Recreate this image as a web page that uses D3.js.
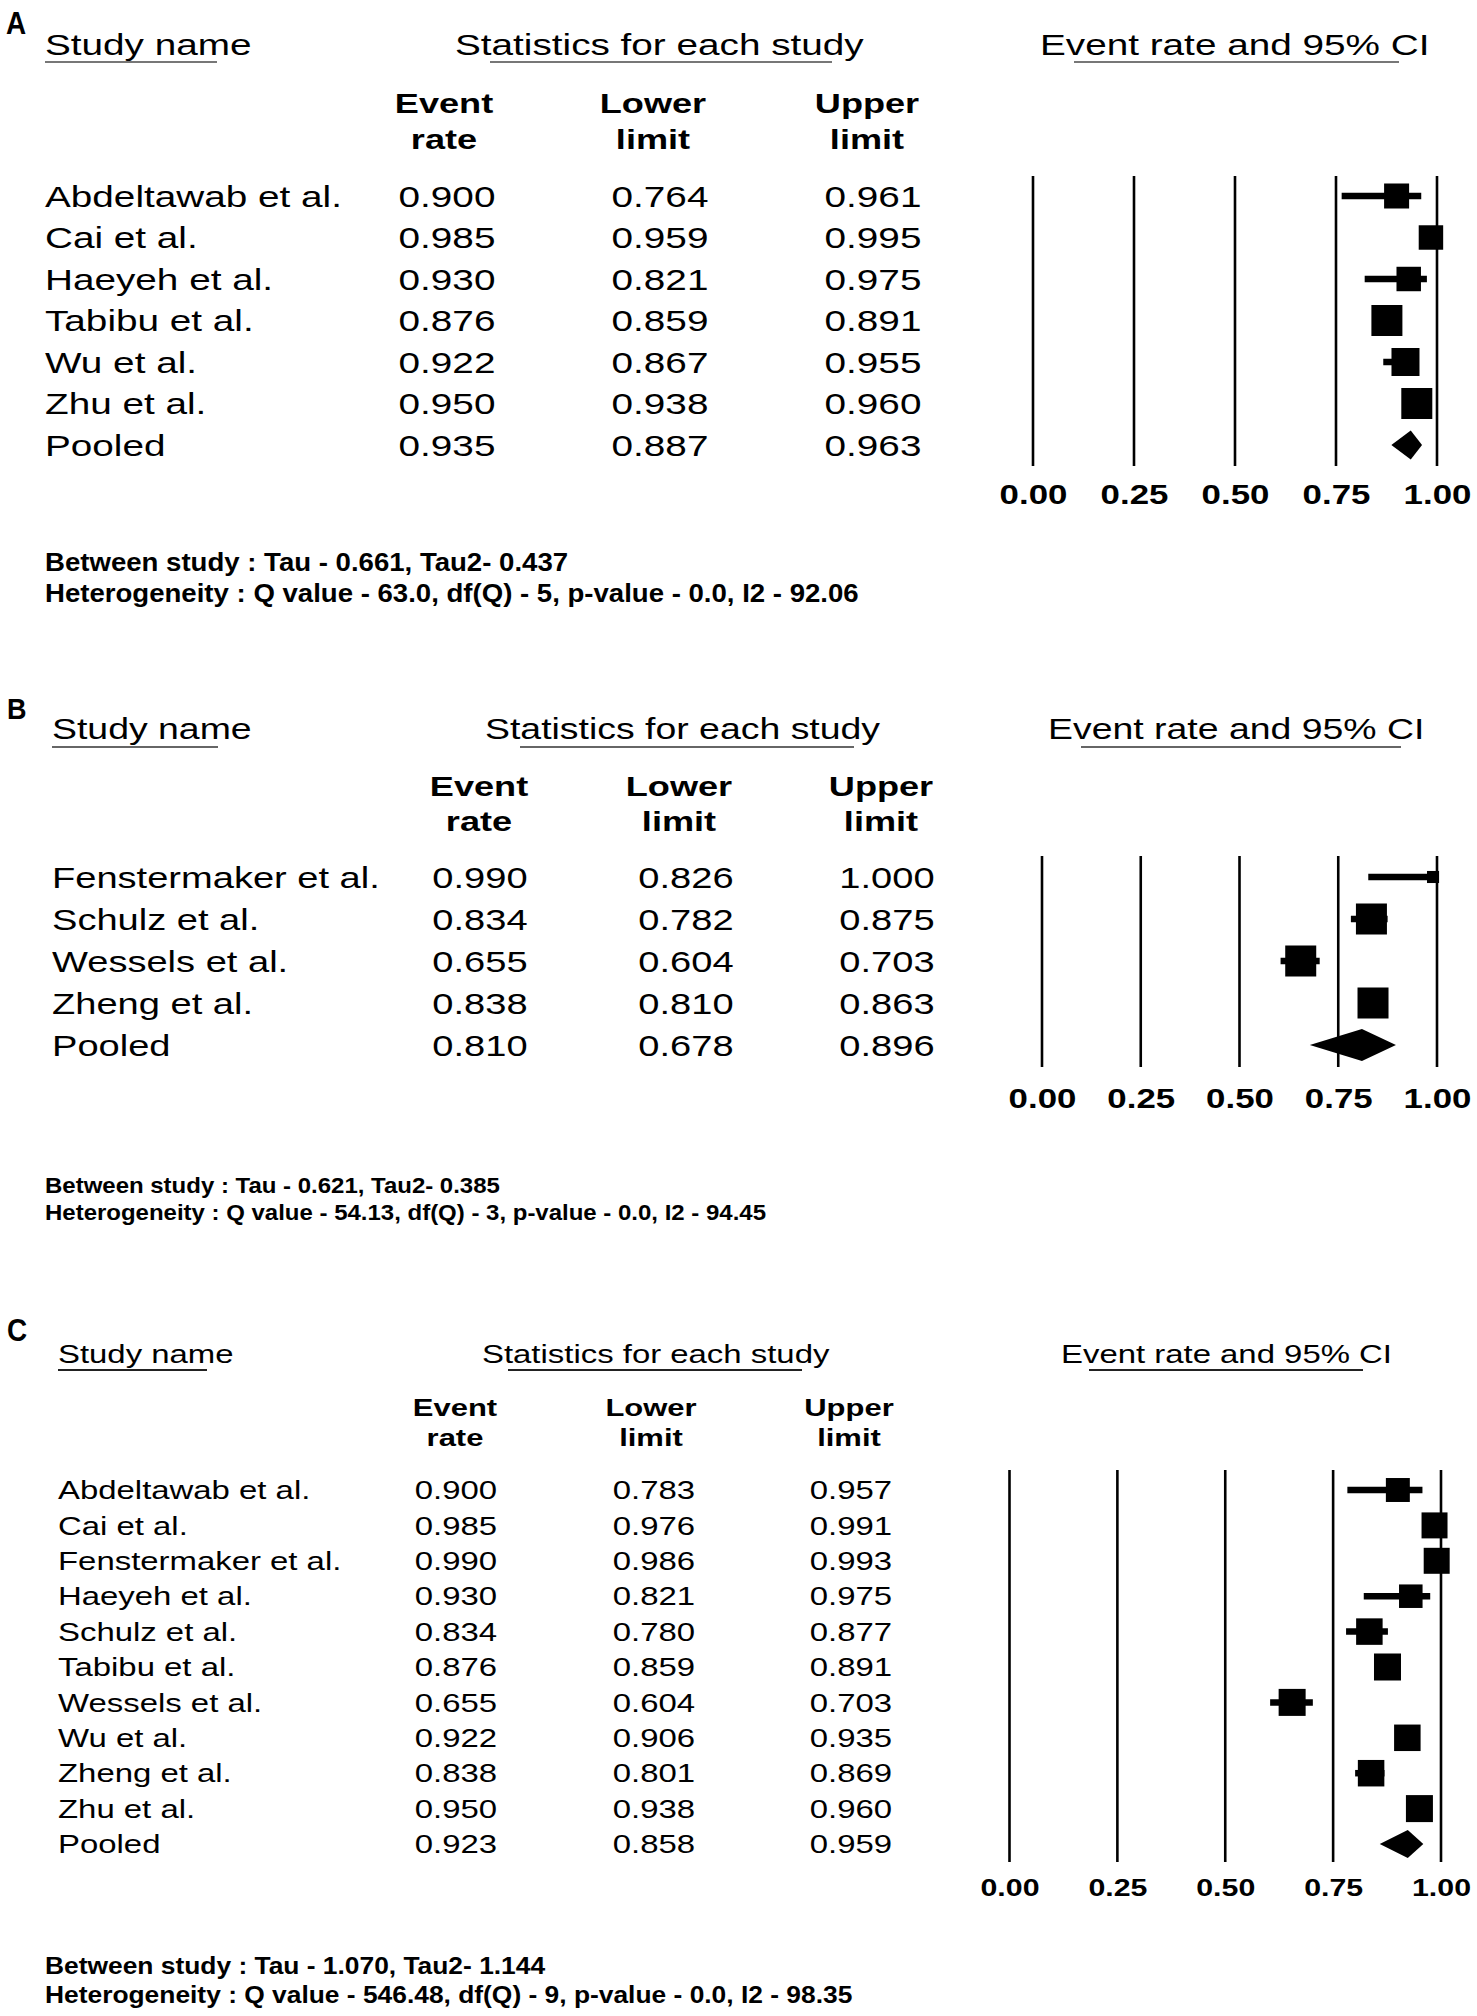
<!DOCTYPE html>
<html><head><meta charset="utf-8">
<script src="https://cdn.jsdelivr.net/npm/d3@7"></script>
<style>
body{margin:0;background:#fff}
svg{display:block;background:#fff}
text{font-family:"Liberation Sans",Arial,Helvetica,sans-serif;fill:#000}
</style>
</head><body>
<svg id="chart" width="1477" height="2016"></svg>
<script>
// ---------------- DATA ----------------
const panelLabels = ["A", "B", "C"];
const headers = ["Study name", "Statistics for each study", "Event rate and 95% CI"];
const colHeads = [["Event", "rate"], ["Lower", "limit"], ["Upper", "limit"]];
const pooledLabel = "Pooled";
const tickValues = [0, 0.25, 0.5, 0.75, 1];

const studiesA = ["Abdeltawab et al.", "Cai et al.", "Haeyeh et al.", "Tabibu et al.", "Wu et al.", "Zhu et al."];
const eventA = [0.900, 0.985, 0.930, 0.876, 0.922, 0.950];
const lowerA = [0.764, 0.959, 0.821, 0.859, 0.867, 0.938];
const upperA = [0.961, 0.995, 0.975, 0.891, 0.955, 0.960];
const weightsA = [13.8, 13.2, 13.2, 21.2, 17.3, 21.2];
const pooledA = [0.935, 0.887, 0.963];
const footA = ["Between study : Tau - 0.661, Tau2- 0.437",
               "Heterogeneity : Q value - 63.0, df(Q) - 5, p-value - 0.0, I2 - 92.06"];

const studiesB = ["Fenstermaker et al.", "Schulz et al.", "Wessels et al.", "Zheng et al."];
const eventB = [0.990, 0.834, 0.655, 0.838];
const lowerB = [0.826, 0.782, 0.604, 0.810];
const upperB = [1.000, 0.875, 0.703, 0.863];
const weightsB = [4.8, 31.7, 31.7, 31.7];
const pooledB = [0.810, 0.678, 0.896];
const footB = ["Between study : Tau - 0.621, Tau2- 0.385",
               "Heterogeneity : Q value - 54.13, df(Q) - 3, p-value - 0.0, I2 - 94.45"];

const studiesC = ["Abdeltawab et al.", "Cai et al.", "Fenstermaker et al.", "Haeyeh et al.", "Schulz et al.",
                  "Tabibu et al.", "Wessels et al.", "Wu et al.", "Zheng et al.", "Zhu et al."];
const eventC = [0.900, 0.985, 0.990, 0.930, 0.834, 0.876, 0.655, 0.922, 0.838, 0.950];
const lowerC = [0.783, 0.976, 0.986, 0.821, 0.780, 0.859, 0.604, 0.906, 0.801, 0.938];
const upperC = [0.957, 0.991, 0.993, 0.975, 0.877, 0.891, 0.703, 0.935, 0.869, 0.960];
const weightsC = [8.5, 10.0, 10.0, 8.2, 10.4, 10.8, 10.8, 10.4, 10.4, 10.8];
const pooledC = [0.923, 0.858, 0.959];
const footC = ["Between study : Tau - 1.070, Tau2- 1.144",
               "Heterogeneity : Q value - 546.48, df(Q) - 9, p-value - 0.0, I2 - 98.35"];

// ---------------- LAYOUT ----------------
const layouts = [
  { label: {x: 6, y: 34, size: 31},
    headY: 55, headSize: 30, ulY: 62, ulColor: "#777",
    headX: [45, 455, 1040], ul: [[45, 217], [490, 832], [1074, 1399]],
    colX: [444, 653, 867], colY: [113, 149], colSize: 28,
    valX: [447, 660, 873], valSize: 30, nameX: 45,
    y0: 196, step: 41.5,
    x0: 1033, x1: 1437, lineTop: 176, lineBottom: 466, tickY: 504, tickSize: 27,
    boxMax: 31, diamondH: 29, ciW: 6.5,
    footX: 45, footY: [571, 602], footSize: 25.3 },
  { label: {x: 7, y: 719, size: 30},
    headY: 739, headSize: 29, ulY: 747, ulColor: "#666",
    headX: [52, 485, 1048], ul: [[52, 218], [520, 854], [1081, 1401]],
    colX: [479, 679, 881], colY: [796, 831], colSize: 28,
    valX: [480, 686, 887], valSize: 29.5, nameX: 52,
    y0: 877, step: 42,
    x0: 1042, x1: 1437, lineTop: 856, lineBottom: 1067, tickY: 1108, tickSize: 27,
    boxMax: 31, diamondH: 32, ciW: 6.5,
    footX: 45, footY: [1193, 1220], footSize: 22 },
  { label: {x: 7, y: 1341, size: 31},
    headY: 1363, headSize: 25.5, ulY: 1370, ulColor: "#222",
    headX: [58, 482, 1061], ul: [[58, 207], [508, 802], [1089, 1363]],
    colX: [455, 651, 849], colY: [1416, 1446], colSize: 24,
    valX: [456, 654, 851], valSize: 25.5, nameX: 58,
    y0: 1490, step: 35.4,
    x0: 1009.5, x1: 1441, lineTop: 1470, lineBottom: 1862, tickY: 1896, tickSize: 23.5,
    boxMax: 27, diamondH: 28, ciW: 6.5,
    footX: 45, footY: [1974, 2003], footSize: 24.2 }
];

const panels = [
  {studies: studiesA, ev: eventA, lo: lowerA, hi: upperA, w: weightsA, pooled: pooledA, foot: footA},
  {studies: studiesB, ev: eventB, lo: lowerB, hi: upperB, w: weightsB, pooled: pooledB, foot: footB},
  {studies: studiesC, ev: eventC, lo: lowerC, hi: upperC, w: weightsC, pooled: pooledC, foot: footC}
];

const SX = 1.29;      // horizontal stretch of the original figure's text
const SXF = 1.09;     // footnote stretch
const SXL = 0.9;      // panel letter stretch
const fmt3 = d3.format(".3f");
const fmt2 = d3.format(".2f");

const svg = d3.select("#chart");
svg.append("rect").attr("width", 1477).attr("height", 2016).attr("fill", "#fff");

function stretch(sel, sx) {
  sel.each(function () {
    const w = this.getComputedTextLength();
    if (w > 0) {
      this.setAttribute("textLength", w * sx);
      this.setAttribute("lengthAdjust", "spacingAndGlyphs");
    }
  });
}
function addText(g, str, x, y, size, weight, anchor, sx) {
  const t = g.append("text").attr("x", x).attr("y", y)
    .style("font-size", size + "px").attr("font-weight", weight)
    .attr("text-anchor", anchor).text(str);
  stretch(t, sx);
  return t;
}

panels.forEach((p, i) => {
  const L = layouts[i];
  const g = svg.append("g");

  // panel label
  addText(g, panelLabels[i], L.label.x, L.label.y, L.label.size, "bold", "start", SXL);

  // headers + underlines
  headers.forEach((h, j) => addText(g, h, L.headX[j], L.headY, L.headSize, "normal", "start", SX));
  g.selectAll("line.ul").data(L.ul).join("line").attr("class", "ul")
    .attr("x1", d => d[0]).attr("x2", d => d[1])
    .attr("y1", L.ulY).attr("y2", L.ulY)
    .attr("stroke", L.ulColor).attr("stroke-width", 2);

  // column headers
  colHeads.forEach((c, j) => {
    c.forEach((s, k) => addText(g, s, L.colX[j], L.colY[k], L.colSize, "bold", "middle", SX));
  });

  // rows
  const names = p.studies.concat([pooledLabel]);
  const evs = p.ev.concat([p.pooled[0]]);
  const los = p.lo.concat([p.pooled[1]]);
  const his = p.hi.concat([p.pooled[2]]);
  const n = names.length;
  const y = d3.scaleLinear().domain([0, n - 1]).range([L.y0, L.y0 + (n - 1) * L.step]);
  const base = r => y(r) + L.valSize * 0.36;

  names.forEach((nm, r) => {
    addText(g, nm, L.nameX, base(r), L.valSize, "normal", "start", SX);
    addText(g, fmt3(evs[r]), L.valX[0], base(r), L.valSize, "normal", "middle", SX);
    addText(g, fmt3(los[r]), L.valX[1], base(r), L.valSize, "normal", "middle", SX);
    addText(g, fmt3(his[r]), L.valX[2], base(r), L.valSize, "normal", "middle", SX);
  });

  // forest plot
  const x = d3.scaleLinear().domain([0, 1]).range([L.x0, L.x1]);
  const size = d3.scaleSqrt().domain([0, d3.max(p.w)]).range([0, L.boxMax]);

  g.selectAll("line.grid").data(tickValues).join("line").attr("class", "grid")
    .attr("x1", d => x(d)).attr("x2", d => x(d))
    .attr("y1", L.lineTop).attr("y2", L.lineBottom)
    .attr("stroke", "#000").attr("stroke-width", 2.6);

  const axis = d3.axisBottom(x).tickValues(tickValues).tickFormat(fmt2).tickSize(0).tickPadding(0);
  const ag = g.append("g").attr("transform", `translate(0,${L.tickY})`).call(axis);
  ag.select(".domain").remove();
  ag.attr("font-family", null).attr("font-size", null);
  ag.selectAll("text").attr("y", 0).attr("dy", null)
    .style("font-size", L.tickSize + "px").attr("font-weight", "bold")
    .attr("fill", "#000").attr("text-anchor", "middle");
  stretch(ag.selectAll("text"), SX);

  const idx = d3.range(p.studies.length);
  g.selectAll("line.ci").data(idx).join("line").attr("class", "ci")
    .attr("x1", r => x(p.lo[r])).attr("x2", r => x(p.hi[r]))
    .attr("y1", r => y(r)).attr("y2", r => y(r))
    .attr("stroke", "#000").attr("stroke-width", L.ciW);

  g.selectAll("rect.box").data(idx).join("rect").attr("class", "box")
    .attr("x", r => x(p.ev[r]) - size(p.w[r]) / 2)
    .attr("y", r => y(r) - size(p.w[r]) / 2)
    .attr("width", r => size(p.w[r])).attr("height", r => size(p.w[r]))
    .attr("fill", "#000");

  const pr = n - 1, cy = y(pr), hh = L.diamondH / 2;
  g.append("path")
    .attr("d", `M${x(p.pooled[1])},${cy} L${x(p.pooled[0])},${cy - hh} L${x(p.pooled[2])},${cy} L${x(p.pooled[0])},${cy + hh} Z`)
    .attr("fill", "#000");

  // footnotes
  p.foot.forEach((f, k) => addText(g, f, L.footX, L.footY[k], L.footSize, "bold", "start", SXF));
});
</script>
</body></html>
